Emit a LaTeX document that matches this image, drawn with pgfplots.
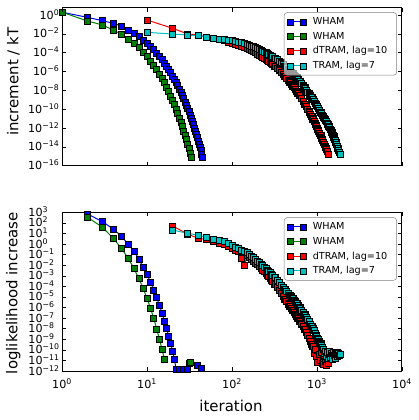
\documentclass[border=0pt]{standalone}
\usepackage{pgfplots}
\pgfplotsset{compat=1.18}
\usepackage{fontspec}
\setmainfont{DejaVu Sans}
\definecolor{mplgreen}{rgb}{0,0.5,0}
\definecolor{mplcyan}{rgb}{0,0.75,0.75}
\newcommand\tpe[1]{\fontsize{11.2}{13}\selectfont 10\textsuperscript{\ifnum#1<0 −\number-#1\else#1\fi}}
\newcommand\lf{\fontsize{9.7}{11}\selectfont}
\newcommand\af{\fontsize{15}{17}\selectfont}
\pgfplotsset{
  mser/.style={color=#1, line width=1bp, mark=square*, mark size=3bp,
    mark options={solid, sharp corners, fill=#1, draw=black, line width=0.5bp}},
  dser/.style={color=#1, line width=1bp, mark=square*, mark size=3bp,
    mark options={solid, sharp corners, fill=#1, draw=black, line width=1.3bp}},
}
\begin{document}
\begin{tikzpicture}
\path[use as bounding box] (0,0) rectangle (419bp,-420bp);
% ---------------- top panel ----------------
\begin{axis}[at={(62bp,-7.5bp)}, anchor=north west,
  scale only axis, width=340bp, height=158.2bp,
  xmode=log, ymode=log, xmin=1, xmax=10000,
  xtick=\empty, ytick=\empty,
  minor xtick={2,3,4,5,6,7,8,9,20,30,40,50,60,70,80,90,200,300,400,500,600,700,800,900,2000,3000,4000,5000,6000,7000,8000,9000},
  yminorticks=false,
  minor tick length=2bp,
  every tick/.style={black, line width=0.5bp},
  axis line style={line width=1bp},
  legend style={at={(0.985,0.97)}, anchor=north east, draw=black!50, line width=0.5bp,
    rounded corners=3bp, fill=white, fill opacity=0.6, draw opacity=1, text opacity=1,
    inner xsep=3.3bp, inner ysep=3bp, row sep=2bp,
    /tikz/every odd column/.append style={column sep=5bp}},
  legend cell align=left,
  legend image code/.code={\draw[fill opacity=1, sharp corners] plot coordinates {(0bp,0bp) (12.3bp,0bp)};},
  ymin=1e-16, ymax=6.3,
  every axis y label/.style={at={(axis description cs:-0.143,0.53)}, rotate=90, anchor=center},
  ylabel={\af increment / kT},
  after end axis/.code={
    \foreach \e in {-16,-14,-12,-10,-8,-6,-4,-2,0}{
      \draw[line width=0.5bp] (axis cs:1,1e\e) -- ++(4bp,0);
      \draw[line width=0.5bp] (axis cs:1e4,1e\e) -- ++(-4bp,0);
      \node[anchor=base east, inner sep=0pt] at ([xshift=-2.5bp,yshift=-4bp]axis cs:1,1e\e) {\tpe{\e}};
    }
    \foreach \e in {0,1,2,3,4}{
      \draw[line width=0.5bp] (axis cs:1e\e,1e-16) -- ++(0,4bp);
      \draw[line width=0.5bp] (axis cs:1e\e,6.3) -- ++(0,-4bp);
    }
  }]
\addplot[mser=blue] coordinates {(1,2.0) (2,5.62e-1) (3,2.51e-1) (4,1.32e-1) (5,6.76e-2) (6,2.57e-2) (7,1.12e-2) (8,5.01e-3) (9,2.24e-3) (10,1.02e-3) (11,4.57e-4) (12,2.09e-4) (13,9.33e-5) (14,4.17e-5) (15,1.91e-5) (16,8.51e-6) (17,3.89e-6) (18,1.74e-6) (19,7.76e-7) (20,3.55e-7) (21,1.58e-7) (22,7.24e-8) (23,3.24e-8) (24,1.45e-8) (25,6.61e-9) (26,2.95e-9) (27,1.35e-9) (28,6.03e-10) (29,2.69e-10) (30,1.23e-10) (31,5.50e-11) (32,2.51e-11) (33,1.12e-11) (34,5.13e-12) (35,2.29e-12) (36,1.02e-12) (37,4.68e-13) (38,2.09e-13) (39,9.55e-14) (40,4.27e-14) (41,1.91e-14) (42,8.71e-15) (43,3.89e-15) (44,1.78e-15) (45,7.94e-16)};
\addlegendentry{\lf WHAM}
\addplot[mser=mplgreen] coordinates {(1,2.0) (2,2.29e-1) (3,8.71e-2) (4,2.57e-2) (5,8.91e-3) (6,2.63e-3) (7,1.0e-3) (8,3.39e-4) (9,1.15e-4) (10,3.98e-5) (11,1.35e-5) (12,4.68e-6) (13,1.58e-6) (14,5.50e-7) (15,1.86e-7) (16,6.46e-8) (17,2.19e-8) (18,7.59e-9) (19,2.57e-9) (20,8.91e-10) (21,3.02e-10) (22,1.05e-10) (23,3.55e-11) (24,1.23e-11) (25,4.17e-12) (26,1.45e-12) (27,4.90e-13) (28,1.70e-13) (29,5.75e-14) (30,2.0e-14) (31,6.76e-15) (32,2.34e-15) (33,7.94e-16)};
\addlegendentry{\lf WHAM}
\addplot[mser=red] coordinates {(10,2.95e-1) (20,3.89e-2) (30,1.0e-2) (40,7.59e-3) (50,4.47e-3) (60,3.31e-3) (70,2.51e-3) (80,1.91e-3) (90,1.38e-3) (100,1.10e-3) (110,8.71e-4) (120,6.76e-4) (130,5.25e-4) (140,3.98e-4) (150,2.95e-4) (160,2.24e-4) (170,1.74e-4) (180,1.38e-4) (190,1.0e-4) (200,7.59e-5) (210,5.89e-5) (220,4.37e-5) (230,3.47e-5) (240,2.69e-5) (250,2.14e-5) (260,1.70e-5) (270,1.29e-5) (280,1.05e-5) (290,7.76e-6) (300,6.31e-6)};
\addlegendentry{\lf dTRAM, lag=10\hspace*{4bp}}
\addplot[dser=red, forget plot] coordinates {(300,6.31e-6) (320,3.72e-6) (340,2.24e-6) (360,1.41e-6) (380,8.32e-7) (400,4.90e-7) (420,3.02e-7) (440,1.91e-7) (460,1.20e-7) (480,7.59e-8) (500,4.57e-8) (520,2.95e-8) (540,1.95e-8) (560,1.17e-8) (580,7.76e-9) (600,5.13e-9) (630,2.82e-9) (660,1.35e-9) (690,7.08e-10) (720,3.39e-10) (750,1.78e-10) (780,9.55e-11) (810,5.13e-11) (840,2.63e-11) (870,1.55e-11) (900,8.91e-12) (930,4.79e-12) (960,2.75e-12) (990,1.62e-12) (1020,8.13e-13) (1050,4.68e-13) (1080,2.75e-13) (1110,1.58e-13) (1140,8.71e-14) (1170,5.50e-14) (1200,2.95e-14) (1230,1.82e-14) (1260,9.77e-15) (1290,6.03e-15) (1320,3.24e-15)};
\addplot[mser=red, forget plot] coordinates {(1320,3.24e-15) (1350,1.78e-15)};
\addplot[mser=mplcyan] coordinates {(10,1.45e-2) (20,9.55e-3) (30,7.59e-3) (40,6.31e-3) (50,4.68e-3) (60,3.72e-3) (70,3.02e-3) (80,2.57e-3) (90,2.14e-3) (100,1.86e-3) (110,1.62e-3) (120,1.38e-3) (130,1.17e-3) (140,9.77e-4) (150,7.94e-4) (160,6.46e-4) (170,5.37e-4) (180,4.37e-4) (190,3.47e-4) (200,2.82e-4) (210,2.24e-4) (220,1.82e-4) (230,1.48e-4) (240,1.23e-4) (250,1.02e-4) (260,8.32e-5) (270,6.92e-5) (280,5.75e-5) (290,4.68e-5) (300,3.89e-5)};
\addlegendentry{\lf TRAM, lag=7}
\addplot[dser=mplcyan, forget plot] coordinates {(300,3.89e-5) (320,2.63e-5) (340,1.78e-5) (360,1.20e-5) (380,8.13e-6) (400,5.50e-6) (420,3.72e-6) (440,2.51e-6) (460,1.70e-6) (480,1.17e-6) (500,8.13e-7) (520,5.62e-7) (540,3.98e-7) (560,2.82e-7) (580,2.0e-7) (600,1.41e-7) (630,8.51e-8) (660,5.01e-8) (690,2.95e-8) (720,1.74e-8) (750,1.02e-8) (780,6.17e-9) (810,3.98e-9) (840,2.51e-9) (870,1.62e-9) (900,1.05e-9) (930,6.76e-10) (960,4.37e-10) (990,2.82e-10) (1020,1.78e-10) (1050,1.15e-10) (1080,7.41e-11) (1110,4.79e-11) (1140,3.24e-11) (1170,2.24e-11) (1200,1.51e-11) (1230,1.02e-11) (1260,6.92e-12) (1290,4.68e-12) (1320,3.16e-12) (1350,2.19e-12) (1380,1.51e-12) (1410,1.05e-12) (1440,7.24e-13) (1470,4.90e-13) (1500,3.39e-13) (1530,2.34e-13) (1560,1.62e-13) (1590,1.10e-13) (1620,6.92e-14) (1650,4.37e-14) (1680,2.75e-14) (1710,1.74e-14) (1740,1.10e-14) (1770,6.76e-15) (1800,4.17e-15) (1830,2.57e-15)};
\addplot[mser=mplcyan, forget plot] coordinates {(1830,2.57e-15) (1860,1.58e-15)};
\end{axis}
% ---------------- bottom panel ----------------
\begin{axis}[at={(62bp,-212.3bp)}, anchor=north west,
  scale only axis, width=340bp, height=158.7bp,
  xmode=log, ymode=log, xmin=1, xmax=10000,
  xtick=\empty, ytick=\empty,
  minor xtick={2,3,4,5,6,7,8,9,20,30,40,50,60,70,80,90,200,300,400,500,600,700,800,900,2000,3000,4000,5000,6000,7000,8000,9000},
  yminorticks=false,
  minor tick length=2bp,
  every tick/.style={black, line width=0.5bp},
  axis line style={line width=1bp},
  legend style={at={(0.985,0.968)}, anchor=north east, draw=black!50, line width=0.5bp,
    rounded corners=3bp, fill=white, fill opacity=0.6, draw opacity=1, text opacity=1,
    inner xsep=3.3bp, inner ysep=3bp, row sep=2bp,
    /tikz/every odd column/.append style={column sep=5bp}},
  legend cell align=left,
  legend image code/.code={\draw[fill opacity=1, sharp corners] plot coordinates {(0bp,0bp) (12.3bp,0bp)};},
  ymin=1e-12, ymax=1e3,
  ylabel={\af loglikelihood increase},
  xlabel={\af iteration},
  every axis x label/.style={at={(axis description cs:0.497,-0.255)}, anchor=base},
  every axis y label/.style={at={(axis description cs:-0.143,0.49)}, rotate=90, anchor=center},
  after end axis/.code={
    \foreach \e in {-12,-11,-10,-9,-8,-7,-6,-5,-4,-3,-2,-1,0,1,2,3}{
      \draw[line width=0.5bp] (axis cs:1,1e\e) -- ++(4bp,0);
      \draw[line width=0.5bp] (axis cs:1e4,1e\e) -- ++(-4bp,0);
      \node[anchor=base west, inner sep=0pt] at ([xshift=-33.7bp,yshift=-4bp]axis cs:1,1e\e) {\tpe{\e}};
    }
    \foreach \e in {0,1,2,3,4}{
      \draw[line width=0.5bp] (axis cs:1e\e,1e-12) -- ++(0,4bp);
      \draw[line width=0.5bp] (axis cs:1e\e,1e3) -- ++(0,-4bp);
      \node[anchor=base, inner sep=0pt] at ([yshift=-17bp]axis cs:1e\e,1e-12) {\tpe{\e}};
    }
  }]
\addplot[mser=blue] coordinates {(2,692) (3,129) (4,26.3) (5,5.75) (6,0.955) (7,0.219) (8,3.89e-2) (9,6.31e-3) (10,1.38e-3) (11,2.40e-4) (12,4.57e-5) (13,8.51e-6) (14,1.74e-6) (15,2.82e-7) (16,5.62e-8) (17,1.10e-8) (18,2.04e-9) (19,4.17e-10) (20,7.94e-11) (21,1.35e-11) (22,1.5e-12) (24,1.5e-12) (27,1.5e-12) (30,1.5e-12) (31,5.2e-12) (39,3.2e-12) (44,1.8e-12)};
\addlegendentry{\lf WHAM}
\addplot[mser=mplgreen] coordinates {(2,340) (3,38.0) (4,3.47) (5,0.398) (6,4.47e-2) (7,5.13e-3) (8,5.75e-4) (9,6.61e-5) (10,7.41e-6) (11,8.51e-7) (12,9.55e-8) (13,9.33e-9) (14,1.0e-9) (15,1.20e-10) (16,1.35e-11)};
\addlegendentry{\lf WHAM}
\addplot[mser=red] coordinates {(20,51.3) (30,8.91) (40,3.47) (50,2.82) (60,2.0) (70,1.32) (80,0.955) (90,0.631) (100,0.417) (110,0.282) (120,0.191) (130,4.47e-2) (140,8.91e-3) (150,7.94e-2) (160,5.62e-2) (170,3.80e-2) (180,2.51e-2) (190,1.66e-2) (200,1.12e-2) (210,7.94e-3) (220,5.37e-3) (230,3.63e-3) (240,2.51e-3) (250,1.70e-3) (260,1.17e-3) (270,8.32e-4) (280,5.89e-4) (290,4.07e-4) (300,2.88e-4)};
\addlegendentry{\lf dTRAM, lag=10\hspace*{4bp}}
\addplot[dser=red, forget plot] coordinates {(300,2.88e-4) (320,1.45e-4) (340,7.41e-5) (360,3.80e-5) (380,2.0e-5) (400,1.10e-5) (420,6.17e-6) (440,3.55e-6) (460,2.14e-6) (480,1.32e-6) (500,8.51e-7) (520,5.50e-7) (540,3.63e-7) (560,2.34e-7) (580,1.58e-7) (600,1.05e-7) (630,5.25e-8) (660,2.82e-8) (690,1.58e-8) (720,7.94e-9) (750,4.17e-9) (780,2.24e-9) (810,1.26e-9) (840,6.31e-10) (870,3.16e-10) (900,2.0e-10)};
\addplot[mser=red, forget plot] coordinates {(900,2.0e-10) (930,5.01e-11) (960,1.26e-10) (990,2.51e-11) (1020,6.31e-12) (1050,3.98e-11) (1080,1.0e-11) (1110,6.31e-11) (1140,5.01e-12) (1170,1.58e-11) (1200,3.98e-12) (1230,2.51e-11) (1260,7.94e-12) (1290,3.16e-12) (1320,1.26e-11) (1350,5.01e-12)};
\addplot[mser=mplcyan] coordinates {(20,21.4) (30,10.2) (40,7.08) (50,4.17) (60,3.16) (70,2.34) (80,1.66) (90,1.12) (100,0.708) (110,0.501) (120,0.372) (130,0.275) (140,0.209) (150,0.158) (160,0.107) (170,7.41e-2) (180,5.13e-2) (190,3.63e-2) (200,2.57e-2) (210,1.86e-2) (220,1.32e-2) (230,9.33e-3) (240,6.61e-3) (250,4.68e-3) (260,3.47e-3) (270,2.57e-3) (280,1.95e-3) (290,1.45e-3) (300,1.10e-3)};
\addlegendentry{\lf TRAM, lag=7}
\addplot[dser=mplcyan, forget plot] coordinates {(300,1.10e-3) (320,6.46e-4) (340,3.80e-4) (360,2.19e-4) (380,1.26e-4) (400,7.76e-5) (420,4.90e-5) (440,3.09e-5) (460,2.09e-5) (480,1.41e-5) (500,9.77e-6) (520,6.76e-6) (540,4.79e-6) (560,3.31e-6) (580,2.29e-6) (600,1.58e-6) (630,9.12e-7) (660,5.37e-7) (690,3.31e-7) (720,2.0e-7) (750,1.23e-7) (780,7.94e-8) (810,4.57e-8) (840,2.63e-8) (870,1.58e-8) (900,1.0e-8) (930,6.31e-9) (960,3.55e-9) (990,2.0e-9) (1020,1.26e-9) (1050,8.91e-10) (1080,5.62e-10) (1110,3.55e-10) (1140,2.40e-10) (1170,1.58e-10) (1200,1.12e-10)};
\addplot[mser=mplcyan, forget plot] coordinates {(1200,1.12e-10) (1230,5.01e-11) (1260,7.94e-11) (1290,2.51e-11) (1320,6.31e-11) (1350,1.58e-11) (1380,3.98e-11) (1410,7.08e-11) (1440,2.0e-11) (1470,5.01e-11) (1500,3.16e-11) (1530,1.26e-11) (1560,6.31e-11) (1590,3.16e-11) (1620,5.01e-11) (1650,1.78e-11) (1680,3.98e-11) (1710,6.31e-11) (1740,2.51e-11) (1770,3.55e-11) (1800,5.01e-11) (1830,2.82e-11) (1860,3.98e-11)};
\addplot[mser=mplgreen, forget plot] coordinates {(32,7.1e-12)};
\end{axis}
\end{tikzpicture}
\end{document}
